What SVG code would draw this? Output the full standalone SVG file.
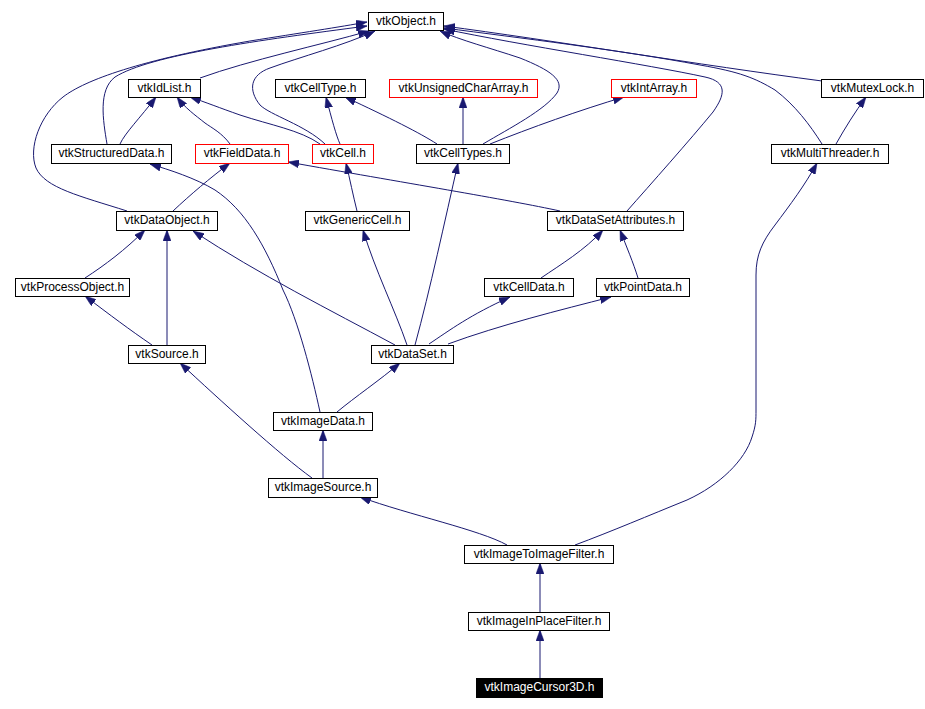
<svg xmlns="http://www.w3.org/2000/svg" width="925" height="709" viewBox="0 0 925 709">
<style>
.n rect{fill:#fff;stroke:#000;stroke-width:1}
.n.red rect{stroke:#f00}
.n.cur rect{fill:#000;stroke:#000}
.n text{font-family:"Liberation Sans",Arial,sans-serif;font-size:12px;text-anchor:middle;fill:#000}
.n.cur text{fill:#fff}
#edges path{fill:none;stroke:#191970;stroke-width:1;marker-end:url(#arr)}
</style>
<defs>
<marker id="arr" viewBox="0 0 11 8" refX="11" refY="4" markerWidth="11" markerHeight="8" markerUnits="userSpaceOnUse" orient="auto">
<path d="M0,0 L11,4 L0,8 z" fill="#191970" stroke="#191970" stroke-width="0.5"/>
</marker>
</defs>
<rect width="925" height="709" fill="#fff"/>
<g id="edges">
<path d="M127,211 C80,196 45,188 36,168 C28,148 40,115 63,97 C85,80 140,60 250,41 C300,33 340,27 367,22"/>
<path d="M107,144 C103,120 98,90 115,77 C150,55 260,40 367,26"/>
<path d="M200,78 C250,60 320,45 369,31"/>
<path d="M325,144 C305,125 270,115 260,105 C248,90 250,75 270,68 C300,57 345,45 375,31"/>
<path d="M483,144 C510,128 545,110 557,93 C565,80 550,70 520,58 C490,48 460,40 440,31"/>
<path d="M627,211 C650,185 690,140 713,112 C725,95 728,82 705,77 C650,65 520,45 444,29"/>
<path d="M822,144 C810,125 795,105 775,90 C755,78 740,72 700,65 C620,50 520,38 444,28"/>
<path d="M822,81 C700,65 550,40 444,26"/>
<path d="M120,144 C125,133 140,118 156,97"/>
<path d="M230,144 C222,133 212,128 205,123 C195,115 185,108 177,97"/>
<path d="M320,144 C300,130 270,125 240,115 C220,108 205,102 190,97"/>
<path d="M340,144 C336,135 332,120 326,97"/>
<path d="M437,144 C420,133 390,118 345,97"/>
<path d="M463,144 L463,97"/>
<path d="M490,144 C530,128 580,110 624,97"/>
<path d="M836,144 C845,128 855,112 866,97"/>
<path d="M357,211 C353,195 350,180 346,163"/>
<path d="M173,211 C190,195 210,178 230,163"/>
<path d="M560,211 C510,200 400,182 288,162"/>
<path d="M320,412 C312,375 298,320 283,290 C265,245 245,210 215,190 C195,178 170,170 150,164"/>
<path d="M85,278 C105,265 125,250 145,230"/>
<path d="M167,345 L167,230"/>
<path d="M395,345 C330,310 260,275 193,231"/>
<path d="M152,345 C130,330 110,315 85,296"/>
<path d="M407,345 C395,310 375,270 363,230"/>
<path d="M415,345 C430,290 445,220 458,163"/>
<path d="M429,344 C450,330 470,315 510,297"/>
<path d="M448,344 C500,325 560,310 611,297"/>
<path d="M541,278 C560,265 585,250 603,230"/>
<path d="M638,278 C633,262 627,248 620,230"/>
<path d="M337,412 C355,397 380,380 400,363"/>
<path d="M323,478 L323,430"/>
<path d="M312,478 C280,455 220,400 180,363"/>
<path d="M507,545 C480,530 410,515 360,497"/>
<path d="M575,545 C610,532 650,515 687,500 C720,485 745,460 752,437 C756,425 756,420 756,410 L756,275 C756,255 762,242 775,225 C790,205 805,185 817,163"/>
<path d="M540,612 L540,563"/>
<path d="M540,678 L540,630"/>
</g>
<g id="vtkObject" class="n"><rect x="368.5" y="12.5" width="75" height="18"/><text x="406" y="24.5">vtkObject.h</text></g>
<g id="vtkIdList" class="n"><rect x="128.5" y="79.5" width="72" height="18"/><text x="164.5" y="91.5">vtkIdList.h</text></g>
<g id="vtkCellType" class="n"><rect x="275.5" y="79.5" width="90" height="18"/><text x="320.5" y="91.5">vtkCellType.h</text></g>
<g id="vtkUnsignedCharArray" class="n red"><rect x="389.5" y="79.5" width="148" height="18"/><text x="463.5" y="91.5">vtkUnsignedCharArray.h</text></g>
<g id="vtkIntArray" class="n red"><rect x="611.5" y="79.5" width="85" height="18"/><text x="654" y="91.5">vtkIntArray.h</text></g>
<g id="vtkMutexLock" class="n"><rect x="821.5" y="79.5" width="102" height="18"/><text x="872.5" y="91.5">vtkMutexLock.h</text></g>
<g id="vtkStructuredData" class="n"><rect x="51.5" y="144.5" width="120" height="19"/><text x="111.5" y="157">vtkStructuredData.h</text></g>
<g id="vtkFieldData" class="n red"><rect x="195.5" y="144.5" width="93" height="19"/><text x="242" y="157">vtkFieldData.h</text></g>
<g id="vtkCell" class="n red"><rect x="312.5" y="144.5" width="61" height="19"/><text x="343" y="157">vtkCell.h</text></g>
<g id="vtkCellTypes" class="n"><rect x="416.5" y="144.5" width="93" height="19"/><text x="463" y="157">vtkCellTypes.h</text></g>
<g id="vtkMultiThreader" class="n"><rect x="771.5" y="144.5" width="117" height="19"/><text x="830" y="157">vtkMultiThreader.h</text></g>
<g id="vtkDataObject" class="n"><rect x="116.5" y="211.5" width="101" height="19"/><text x="167" y="224">vtkDataObject.h</text></g>
<g id="vtkGenericCell" class="n"><rect x="305.5" y="211.5" width="104" height="19"/><text x="357.5" y="224">vtkGenericCell.h</text></g>
<g id="vtkDataSetAttributes" class="n"><rect x="547.5" y="211.5" width="136" height="19"/><text x="615.5" y="224">vtkDataSetAttributes.h</text></g>
<g id="vtkProcessObject" class="n"><rect x="15.5" y="278.5" width="114" height="18"/><text x="72.5" y="290.5">vtkProcessObject.h</text></g>
<g id="vtkCellData" class="n"><rect x="484.5" y="278.5" width="89" height="18"/><text x="529" y="290.5">vtkCellData.h</text></g>
<g id="vtkPointData" class="n"><rect x="596.5" y="278.5" width="93" height="18"/><text x="643" y="290.5">vtkPointData.h</text></g>
<g id="vtkSource" class="n"><rect x="128.5" y="345.5" width="77" height="18"/><text x="167" y="357.5">vtkSource.h</text></g>
<g id="vtkDataSet" class="n"><rect x="371.5" y="345.5" width="82" height="18"/><text x="412.5" y="357.5">vtkDataSet.h</text></g>
<g id="vtkImageData" class="n"><rect x="273.5" y="412.5" width="99" height="18"/><text x="323" y="424.5">vtkImageData.h</text></g>
<g id="vtkImageSource" class="n"><rect x="268.5" y="478.5" width="109" height="19"/><text x="323" y="491">vtkImageSource.h</text></g>
<g id="vtkImageToImageFilter" class="n"><rect x="464.5" y="545.5" width="149" height="18"/><text x="539" y="557.5">vtkImageToImageFilter.h</text></g>
<g id="vtkImageInPlaceFilter" class="n"><rect x="468.5" y="612.5" width="141" height="18"/><text x="539" y="624.5">vtkImageInPlaceFilter.h</text></g>
<g id="vtkImageCursor3D" class="n cur"><rect x="476.5" y="678.5" width="126" height="19"/><text x="539.5" y="691">vtkImageCursor3D.h</text></g>
</svg>
